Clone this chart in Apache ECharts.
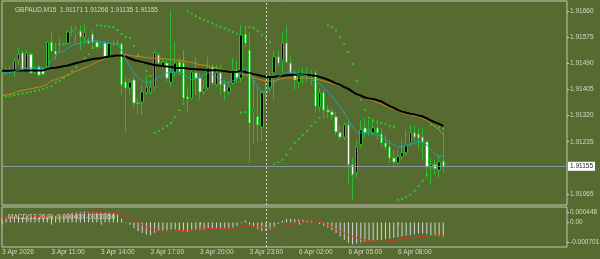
<!DOCTYPE html>
<html>
<head>
<meta charset="utf-8">
<script src="https://cdn.jsdelivr.net/npm/echarts@6/dist/echarts.min.js"></script>
<style>
  html, body { margin: 0; padding: 0; background: #556b2f; }
  #chart { width: 600px; height: 259px; }
</style>
</head>
<body>
<div id="chart"></div>
<script>
// GBPAUD M15, 3 Apr 08:00 .. 6 Apr 10:45 (108 bars)
const symbolTitle = 'GBPAUD,M15  1.91171 1.91266 1.91135 1.91155';
const macdTitle = 'MACD(12,26,9) -0.000400 -0.000350';
const barCount = 108;
const chartSlots = 138; // bars + empty chart shift on the right
const tickEvery = 12;
const timeTicks = ['3 Apr 2026', '3 Apr 11:00', '3 Apr 14:00', '3 Apr 17:00', '3 Apr 20:00',
  '3 Apr 23:00', '6 Apr 02:00', '6 Apr 05:00', '6 Apr 08:00'];
const separatorBar = 64; // 6 Apr 00:00
const priceTicks = [1.91660, 1.91575, 1.91490, 1.91405, 1.91320, 1.91235, 1.91065];
const bidPrice = 1.91155;
const macdTicks = ['0.000448', '0.00', '-0.000701'];

// [open, close, low, high]
const candles = [
  [1.91468, 1.91465, 1.91459, 1.91475], [1.91459, 1.91468, 1.91452, 1.91478], [1.91468, 1.91465, 1.91455, 1.91481],
  [1.91465, 1.91498, 1.91446, 1.91507], [1.91501, 1.91520, 1.91485, 1.91543], [1.91524, 1.91468, 1.91462, 1.91533],
  [1.91472, 1.91524, 1.91468, 1.91533], [1.91520, 1.91459, 1.91455, 1.91527], [1.91462, 1.91472, 1.91455, 1.91481],
  [1.91478, 1.91452, 1.91446, 1.91485], [1.91472, 1.91455, 1.91449, 1.91478], [1.91475, 1.91559, 1.91468, 1.91563],
  [1.91559, 1.91530, 1.91527, 1.91592], [1.91530, 1.91520, 1.91501, 1.91556], [1.91553, 1.91550, 1.91524, 1.91576],
  [1.91550, 1.91553, 1.91546, 1.91559], [1.91556, 1.91592, 1.91550, 1.91598], [1.91595, 1.91598, 1.91579, 1.91611],
  [1.91589, 1.91595, 1.91556, 1.91614], [1.91595, 1.91576, 1.91533, 1.91614], [1.91576, 1.91589, 1.91556, 1.91621],
  [1.91563, 1.91556, 1.91550, 1.91572], [1.91585, 1.91559, 1.91543, 1.91598], [1.91559, 1.91543, 1.91537, 1.91566],
  [1.91546, 1.91550, 1.91540, 1.91556], [1.91556, 1.91511, 1.91504, 1.91563], [1.91511, 1.91556, 1.91507, 1.91559],
  [1.91556, 1.91553, 1.91546, 1.91566], [1.91553, 1.91556, 1.91546, 1.91566], [1.91553, 1.91420, 1.91387, 1.91559],
  [1.91429, 1.91410, 1.91264, 1.91442], [1.91410, 1.91429, 1.91387, 1.91442], [1.91436, 1.91361, 1.91345, 1.91446],
  [1.91361, 1.91358, 1.91322, 1.91377], [1.91364, 1.91397, 1.91322, 1.91420], [1.91394, 1.91413, 1.91387, 1.91452],
  [1.91397, 1.91413, 1.91387, 1.91436], [1.91413, 1.91524, 1.91403, 1.91533], [1.91517, 1.91491, 1.91481, 1.91527],
  [1.91478, 1.91494, 1.91468, 1.91507], [1.91491, 1.91442, 1.91429, 1.91501], [1.91429, 1.91462, 1.91413, 1.91663],
  [1.91459, 1.91491, 1.91446, 1.91559], [1.91494, 1.91462, 1.91452, 1.91507], [1.91491, 1.91377, 1.91364, 1.91533],
  [1.91381, 1.91374, 1.91329, 1.91413], [1.91377, 1.91462, 1.91371, 1.91468], [1.91459, 1.91442, 1.91387, 1.91511],
  [1.91442, 1.91397, 1.91371, 1.91459], [1.91400, 1.91407, 1.91387, 1.91436], [1.91410, 1.91475, 1.91403, 1.91511],
  [1.91478, 1.91426, 1.91420, 1.91488], [1.91420, 1.91459, 1.91413, 1.91485], [1.91459, 1.91420, 1.91387, 1.91485],
  [1.91423, 1.91397, 1.91371, 1.91436], [1.91397, 1.91413, 1.91387, 1.91426], [1.91426, 1.91468, 1.91420, 1.91507],
  [1.91468, 1.91442, 1.91426, 1.91501], [1.91442, 1.91582, 1.91429, 1.91614], [1.91585, 1.91556, 1.91543, 1.91614],
  [1.91533, 1.91296, 1.91166, 1.91592], [1.91332, 1.91338, 1.91231, 1.91446], [1.91316, 1.91290, 1.91234, 1.91413],
  [1.91283, 1.91394, 1.91234, 1.91403], [1.91394, 1.91400, 1.91355, 1.91436], [1.91410, 1.91449, 1.91397, 1.91462],
  [1.91459, 1.91511, 1.91371, 1.91533], [1.91511, 1.91491, 1.91481, 1.91533], [1.91501, 1.91556, 1.91459, 1.91592],
  [1.91556, 1.91494, 1.91491, 1.91614], [1.91491, 1.91459, 1.91452, 1.91517], [1.91452, 1.91436, 1.91403, 1.91468],
  [1.91429, 1.91449, 1.91410, 1.91468], [1.91449, 1.91455, 1.91420, 1.91475], [1.91455, 1.91449, 1.91429, 1.91475],
  [1.91449, 1.91452, 1.91420, 1.91468], [1.91459, 1.91351, 1.91329, 1.91468], [1.91348, 1.91394, 1.91332, 1.91410],
  [1.91394, 1.91338, 1.91322, 1.91403], [1.91338, 1.91332, 1.91312, 1.91355], [1.91332, 1.91322, 1.91306, 1.91345],
  [1.91316, 1.91267, 1.91257, 1.91332], [1.91264, 1.91250, 1.91241, 1.91290], [1.91250, 1.91290, 1.91241, 1.91299],
  [1.91290, 1.91160, 1.91095, 1.91306], [1.91160, 1.91127, 1.91046, 1.91182], [1.91134, 1.91218, 1.91117, 1.91241],
  [1.91225, 1.91273, 1.91215, 1.91306], [1.91280, 1.91264, 1.91247, 1.91312], [1.91270, 1.91273, 1.91254, 1.91306],
  [1.91264, 1.91280, 1.91254, 1.91312], [1.91280, 1.91264, 1.91241, 1.91306], [1.91260, 1.91231, 1.91221, 1.91280],
  [1.91231, 1.91218, 1.91208, 1.91257], [1.91218, 1.91182, 1.91166, 1.91241], [1.91182, 1.91169, 1.91150, 1.91208],
  [1.91166, 1.91186, 1.91156, 1.91208], [1.91186, 1.91199, 1.91176, 1.91241], [1.91199, 1.91225, 1.91189, 1.91273],
  [1.91231, 1.91264, 1.91221, 1.91290], [1.91264, 1.91250, 1.91234, 1.91290], [1.91260, 1.91247, 1.91208, 1.91280],
  [1.91250, 1.91234, 1.91176, 1.91280], [1.91234, 1.91153, 1.91117, 1.91241], [1.91153, 1.91160, 1.91095, 1.91182],
  [1.91160, 1.91147, 1.91127, 1.91176], [1.91143, 1.91169, 1.91117, 1.91192], [1.91171, 1.91155, 1.91135, 1.91266]
];

// slow MA (black)
const maSlow = [
  1.91466, 1.91466, 1.91466, 1.91466, 1.91467, 1.91467, 1.91467, 1.91467, 1.91467, 1.91467, 1.91467,
  1.91472, 1.91475, 1.91476, 1.91478, 1.91481, 1.91483, 1.91487, 1.91491, 1.91494, 1.91498,
  1.91501, 1.91504, 1.91506, 1.91507, 1.91510, 1.91512, 1.91514, 1.91516, 1.91516, 1.91511,
  1.91506, 1.91501, 1.91498, 1.91494, 1.91491, 1.91488, 1.91485, 1.91483, 1.91481, 1.91480,
  1.91478, 1.91476, 1.91475, 1.91475, 1.91473, 1.91472, 1.91471, 1.91470, 1.91469, 1.91468,
  1.91468, 1.91468, 1.91467, 1.91465, 1.91463, 1.91462, 1.91463, 1.91465, 1.91462, 1.91459,
  1.91455, 1.91452, 1.91449, 1.91446, 1.91446, 1.91446, 1.91448, 1.91450, 1.91451, 1.91452,
  1.91453, 1.91454, 1.91453, 1.91452, 1.91451, 1.91450, 1.91446, 1.91442, 1.91437, 1.91431,
  1.91425, 1.91420, 1.91413, 1.91407, 1.91398, 1.91390, 1.91385, 1.91379, 1.91376, 1.91374,
  1.91370, 1.91366, 1.91358, 1.91351, 1.91345, 1.91338, 1.91333, 1.91329, 1.91326, 1.91324,
  1.91320, 1.91317, 1.91311, 1.91304, 1.91298, 1.91293, 1.91286
];

// middle MA (orange)
const maMid = [
  1.91384, 1.91387, 1.91390, 1.91394, 1.91400, 1.91402, 1.91405, 1.91407, 1.91410, 1.91413,
  1.91416, 1.91423, 1.91433, 1.91437, 1.91442, 1.91447, 1.91452, 1.91459, 1.91465, 1.91470,
  1.91475, 1.91481, 1.91488, 1.91494, 1.91501, 1.91506, 1.91511, 1.91514, 1.91517, 1.91520,
  1.91519, 1.91516, 1.91514, 1.91512, 1.91511, 1.91509, 1.91507, 1.91507, 1.91506, 1.91505,
  1.91504, 1.91502, 1.91501, 1.91499, 1.91498, 1.91495, 1.91493, 1.91489, 1.91486, 1.91484,
  1.91481, 1.91478, 1.91475, 1.91472, 1.91468, 1.91465, 1.91462, 1.91459, 1.91455, 1.91452,
  1.91449, 1.91444, 1.91439, 1.91436, 1.91433, 1.91432, 1.91433, 1.91437, 1.91441, 1.91442,
  1.91442, 1.91442, 1.91442, 1.91442, 1.91442, 1.91441, 1.91439, 1.91436, 1.91433, 1.91429,
  1.91426, 1.91421, 1.91416, 1.91412, 1.91407, 1.91398, 1.91390, 1.91384, 1.91377, 1.91372,
  1.91368, 1.91363, 1.91358, 1.91351, 1.91345, 1.91340, 1.91335, 1.91330, 1.91325, 1.91322,
  1.91319, 1.91316, 1.91312, 1.91304, 1.91296, 1.91285, 1.91273, 1.91257
];

// fast MA (teal)
const maFast = [
  1.91455, 1.91459, 1.91460, 1.91463, 1.91468, 1.91472, 1.91475, 1.91475, 1.91473, 1.91472,
  1.91473, 1.91478, 1.91501, 1.91514, 1.91524, 1.91530, 1.91540, 1.91548, 1.91553, 1.91556,
  1.91559, 1.91563, 1.91566, 1.91563, 1.91559, 1.91558, 1.91556, 1.91554, 1.91553, 1.91533,
  1.91504, 1.91481, 1.91459, 1.91442, 1.91433, 1.91428, 1.91426, 1.91436, 1.91446, 1.91452,
  1.91459, 1.91460, 1.91462, 1.91462, 1.91455, 1.91446, 1.91437, 1.91439, 1.91446, 1.91452,
  1.91459, 1.91455, 1.91446, 1.91436, 1.91429, 1.91429, 1.91433, 1.91442, 1.91462, 1.91475,
  1.91459, 1.91436, 1.91413, 1.91397, 1.91397, 1.91413, 1.91426, 1.91446, 1.91455, 1.91462,
  1.91462, 1.91459, 1.91452, 1.91452, 1.91449, 1.91439, 1.91429, 1.91423, 1.91410, 1.91397,
  1.91384, 1.91364, 1.91348, 1.91329, 1.91306, 1.91283, 1.91267, 1.91264, 1.91264, 1.91264,
  1.91260, 1.91257, 1.91250, 1.91241, 1.91234, 1.91225, 1.91218, 1.91218, 1.91221, 1.91225,
  1.91231, 1.91234, 1.91234, 1.91225, 1.91208, 1.91195, 1.91189, 1.91186
];

// parabolic SAR
const sar = [
  1.91381, 1.91382, 1.91384, 1.91387, 1.91390, 1.91392, 1.91394, 1.91397, 1.91400, 1.91403,
  1.91407, 1.91411, 1.91416, 1.91426, 1.91433, 1.91442, 1.91452, 1.91465, 1.91478, 1.91494,
  1.91507, 1.91520, 1.91540, 1.91614, 1.91613, 1.91611, 1.91609, 1.91608, 1.91598, 1.91585,
  1.91576, 1.91572, 1.91546, 1.91517, 1.91491, 1.91465, 1.91449, 1.91264, 1.91270, 1.91278,
  1.91286, 1.91296, 1.91316, 1.91338, 1.91358, 1.91660, 1.91652, 1.91644, 1.91637, 1.91631,
  1.91626, 1.91621, 1.91614, 1.91608, 1.91603, 1.91598, 1.91592, 1.91587, 1.91329, 1.91332,
  1.91608, 1.91605, 1.91595, 1.91582, 1.91572, 1.91559, 1.91163, 1.91169, 1.91176, 1.91192,
  1.91212, 1.91231, 1.91244, 1.91257, 1.91270, 1.91286, 1.91299, 1.91312, 1.91316, 1.91614,
  1.91608, 1.91598, 1.91576, 1.91553, 1.91527, 1.91488, 1.91433, 1.91371, 1.91338, 1.91312,
  1.91303, 1.91299, 1.91296, 1.91293, 1.91286, 1.91283, 1.91046, 1.91049, 1.91054, 1.91062,
  1.91075, 1.91091, 1.91108, 1.91127, 1.91290, 1.91286, 1.91282, 1.91277
];

// MACD main (histogram)
const macdMain = [
  0.00013, 0.00015, 0.00016, 0.00017, 0.00018, 0.00017, 0.00017, 0.00016, 0.00016, 0.00015,
  0.00015, 0.00018, 0.00019, 0.00020, 0.00021, 0.00023, 0.00026, 0.00028, 0.00029, 0.00030,
  0.00031, 0.00030, 0.00030, 0.00029, 0.00029, 0.00028, 0.00028, 0.00026, 0.00023, 0.00012,
  0.00002, -0.00006, -0.00016, -0.00024, -0.00030, -0.00034, -0.00036, -0.00029, -0.00024, -0.00022,
  -0.00022, -0.00020, -0.00020, -0.00021, -0.00025, -0.00026, -0.00023, -0.00022, -0.00022, -0.00021,
  -0.00018, -0.00017, -0.00017, -0.00017, -0.00018, -0.00018, -0.00015, -0.00010, -0.00002, 0.00006,
  -0.00004, -0.00012, -0.00019, -0.00025, -0.00024, -0.00019, -0.00012, -0.00004, 0.00005, 0.00010,
  0.00011, 0.00010, 0.00009, 0.00008, 0.00006, 0.00004, 0.00000, -0.00004, -0.00009, -0.00014,
  -0.00021, -0.00030, -0.00039, -0.00049, -0.00058, -0.00062, -0.00060, -0.00057, -0.00055, -0.00053,
  -0.00052, -0.00050, -0.00049, -0.00048, -0.00046, -0.00044, -0.00042, -0.00040, -0.00038, -0.00036,
  -0.00034, -0.00032, -0.00031, -0.00033, -0.00036, -0.00038, -0.00039, -0.00040
];

// MACD signal (red)
const macdSignal = [
  0.00011, 0.00012, 0.00012, 0.00013, 0.00014, 0.00015, 0.00015, 0.00016, 0.00017, 0.00017,
  0.00018, 0.00018, 0.00019, 0.00020, 0.00020, 0.00021, 0.00022, 0.00023, 0.00024, 0.00025,
  0.00026, 0.00027, 0.00028, 0.00029, 0.00030, 0.00031, 0.00031, 0.00030, 0.00027, 0.00023,
  0.00019, 0.00014, 0.00009, 0.00001, -0.00007, -0.00013, -0.00018, -0.00021, -0.00023, -0.00025,
  -0.00026, -0.00026, -0.00025, -0.00024, -0.00022, -0.00022, -0.00021, -0.00020, -0.00018, -0.00018,
  -0.00017, -0.00017, -0.00016, -0.00016, -0.00016, -0.00016, -0.00016, -0.00015, -0.00013, -0.00011,
  -0.00009, -0.00010, -0.00012, -0.00013, -0.00014, -0.00015, -0.00015, -0.00015, -0.00014, -0.00011,
  -0.00007, -0.00003, 0.00001, 0.00003, 0.00005, 0.00005, 0.00003, 0.00001, -0.00002, -0.00007,
  -0.00013, -0.00019, -0.00025, -0.00030, -0.00035, -0.00040, -0.00044, -0.00048, -0.00050, -0.00052,
  -0.00053, -0.00054, -0.00054, -0.00054, -0.00053, -0.00051, -0.00049, -0.00047, -0.00045, -0.00044,
  -0.00042, -0.00041, -0.00040, -0.00038, -0.00037, -0.00036, -0.00036, -0.00035
];

const fg = '#d8d8c8';
const font = 'Liberation Sans, Arial, sans-serif';
const wick = '#30b830';
const slots = Array.from({ length: chartSlots }, (_, i) => String(i));
const isTick = (i) => i % tickEvery === 0 && i < barCount;

const macdMin = -0.000701;
const macdMax = 0.000448;
const macdInset = 0.00014;
const separatorStyle = { color: '#d0d0c8', type: [2, 2], width: 1 };

const chart = echarts.init(document.getElementById('chart'), null, { renderer: 'canvas' });

chart.setOption({
  animation: false,
  backgroundColor: '#556b2f',
  title: [
    { text: symbolTitle, left: 10, top: 2, textStyle: { color: fg, fontSize: 6.5, fontWeight: 'normal', fontFamily: font } },
    { text: macdTitle, left: 3, top: 209, textStyle: { color: fg, fontSize: 6.5, fontWeight: 'normal', fontFamily: font } }
  ],
  grid: [
    { left: 2, right: 33, top: 1, height: 204, show: true, borderColor: '#c8c8b8', borderWidth: 1, outerBoundsMode: 'none' },
    { left: 2, right: 33, top: 207, height: 40, show: true, borderColor: '#c8c8b8', borderWidth: 1, outerBoundsMode: 'none' }
  ],
  xAxis: [
    {
      type: 'category', gridIndex: 0, data: slots, boundaryGap: false,
      axisLine: { show: false }, axisTick: { show: false }, axisLabel: { show: false }, splitLine: { show: false }
    },
    {
      type: 'category', gridIndex: 1, data: slots, boundaryGap: false,
      axisLine: { show: false },
      axisTick: { show: true, length: 2, interval: isTick, lineStyle: { color: fg } },
      axisLabel: {
        interval: isTick, align: 'left', margin: 2, color: fg, fontSize: 6.5, fontFamily: font,
        formatter: (v, i) => (isTick(i) ? timeTicks[i / tickEvery] : '')
      },
      splitLine: { show: false }
    }
  ],
  yAxis: [
    {
      type: 'value', gridIndex: 0, position: 'right', min: 1.91029, max: 1.91693, scale: true,
      axisLine: { show: false },
      axisTick: { show: true, length: 2, customValues: priceTicks, lineStyle: { color: fg } },
      axisLabel: {
        customValues: priceTicks, margin: 3, color: fg, fontSize: 6.5, fontFamily: font,
        formatter: (v) => v.toFixed(5)
      },
      splitLine: { show: false }
    },
    {
      type: 'value', gridIndex: 1, position: 'right', min: macdMin, max: macdMax,
      axisLine: { show: false },
      axisTick: { show: true, length: 2, customValues: [macdMax - macdInset, 0, macdMin + macdInset], lineStyle: { color: fg } },
      axisLabel: {
        customValues: [macdMax - macdInset, 0, macdMin + macdInset], margin: 3, color: fg, fontSize: 6.5, fontFamily: font,
        formatter: (v) => (v > 0.0001 ? macdTicks[0] : v < -0.0001 ? macdTicks[2] : macdTicks[1])
      },
      splitLine: { show: false }
    }
  ],
  series: [
    {
      name: 'price', type: 'candlestick', xAxisIndex: 0, yAxisIndex: 0,
      data: candles, barWidth: 3,
      itemStyle: { color: '#000000', color0: '#f4fff2', borderColor: wick, borderColor0: wick, borderWidth: 1 },
      markLine: {
        silent: true, symbol: ['none', 'none'], animation: false, label: { show: false },
        lineStyle: separatorStyle,
        data: [{ xAxis: separatorBar }]
      }
    },
    {
      name: 'maMid', type: 'line', xAxisIndex: 0, yAxisIndex: 0, data: maMid,
      showSymbol: false, lineStyle: { color: '#c8861a', width: 1 }
    },
    {
      name: 'maSlow', type: 'line', xAxisIndex: 0, yAxisIndex: 0, data: maSlow,
      showSymbol: false, lineStyle: { color: '#000000', width: 2 }
    },
    {
      name: 'maFast', type: 'line', xAxisIndex: 0, yAxisIndex: 0, data: maFast,
      showSymbol: false, lineStyle: { color: '#22a0b4', width: 1 },
      markLine: {
        silent: true, symbol: ['none', 'none'], animation: false, precision: 5,
        lineStyle: { color: '#8796a4', type: 'solid', width: 1 },
        label: {
          show: true, position: 'end', distance: 1, formatter: bidPrice.toFixed(5),
          backgroundColor: '#ffffff', color: '#222222', padding: [1, 2, 1, 2],
          fontSize: 6.5, fontFamily: font
        },
        data: [{ yAxis: bidPrice }]
      }
    },
    {
      name: 'sar', type: 'scatter', xAxisIndex: 0, yAxisIndex: 0, data: sar,
      symbol: 'rect', symbolSize: 2, itemStyle: { color: '#22dd22' }
    },
    {
      name: 'macd', type: 'bar', xAxisIndex: 1, yAxisIndex: 1, data: macdMain,
      barWidth: 1, itemStyle: { color: '#d4d4d4' },
      markLine: {
        silent: true, symbol: ['none', 'none'], animation: false, label: { show: false },
        lineStyle: separatorStyle,
        data: [{ xAxis: separatorBar }]
      }
    },
    {
      name: 'signal', type: 'line', xAxisIndex: 1, yAxisIndex: 1, data: macdSignal,
      showSymbol: false, lineStyle: { color: '#e0322a', width: 1 }
    }
  ]
});
</script>
</body>
</html>
